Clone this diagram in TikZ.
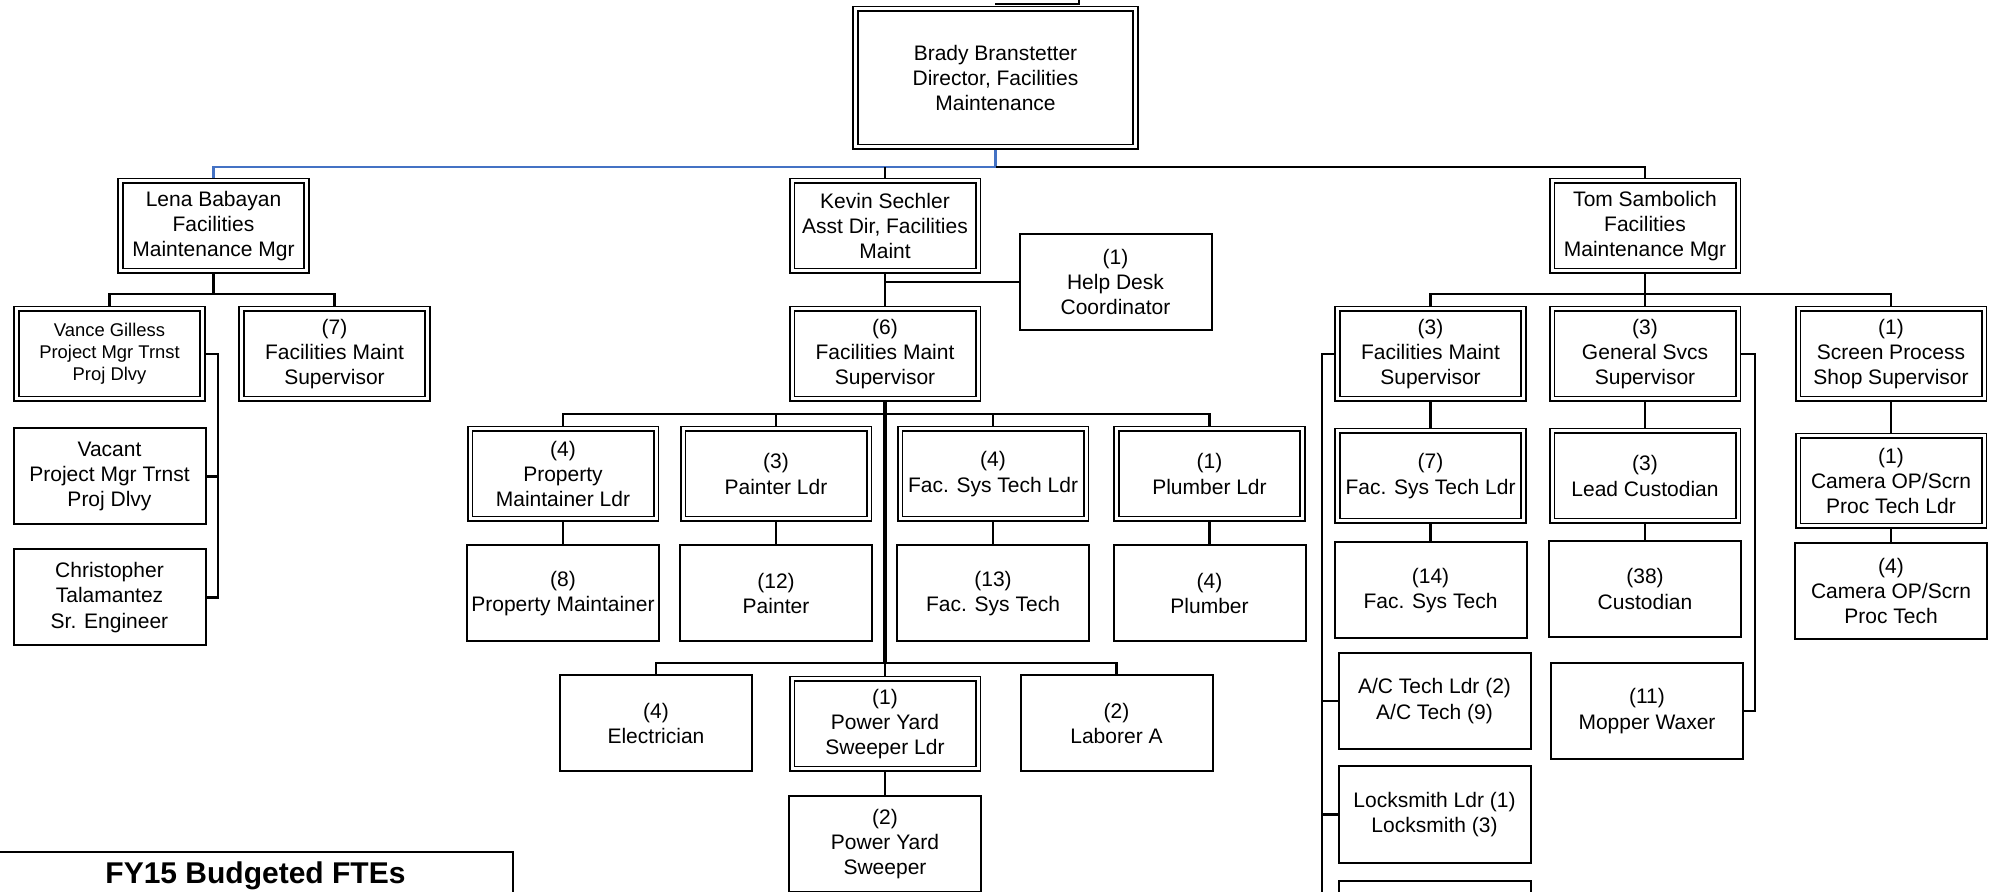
\documentclass[tikz,border=0pt]{standalone}
\usepackage{fontspec}
\setmainfont{Liberation Sans}
\usetikzlibrary{calc}
\definecolor{linkblue}{RGB}{68,114,196}
\tikzset{
  jobbox/.style={draw,fill=white,line width=1pt,minimum width=96pt,minimum height=48pt,
    inner sep=1pt,align=center,font=\fontsize{10.5}{12.6}\selectfont},
  leadbox/.style={jobbox,double,double distance=1.5pt,line width=0.8pt,
    minimum width=93pt,minimum height=45pt,outer sep=1.55pt},
  link/.style={draw,line width=1.05pt},
  trunk/.style={draw,line width=1.7pt},
}
\begin{document}
\begin{tikzpicture}[x=0.5pt,y=-0.5pt]
  \useasboundingbox (0,0) rectangle (1993,892);
  \clip (0,0) rectangle (1993,892);
  \fill[white] (0,0) rectangle (1993,892);
  \draw[link] (995,4) -- (1079,4) -- (1079,0);
  % director and managers
  \node[leadbox,minimum width=140pt,minimum height=69pt] (dir) at (995.5,78) {Brady Branstetter\\Director, Facilities\\Maintenance};
  \node[leadbox] (lena) at (213.5,226) {Lena Babayan\\Facilities\\Maintenance Mgr};
  \node[leadbox] (kevin) at (885,226) {Kevin Sechler\\Asst Dir, Facilities\\Maint};
  \node[leadbox] (tom) at (1645,226) {Tom Sambolich\\Facilities\\Maintenance Mgr};
  % Lena
  \node[leadbox,font=\fontsize{9.2}{11}\selectfont] (vance) at (109.5,354) {Vance Gilless\\Project Mgr Trnst\\Proj Dlvy};
  \node[leadbox] (fms7) at (334.5,354) {(7)\\Facilities Maint\\Supervisor};
  \node[jobbox] (vacant) at (109.5,476.5) {Vacant\\Project Mgr Trnst\\Proj Dlvy};
  \node[jobbox] (chris) at (109.5,597.5) {Christopher\\Talamantez\\Sr. Engineer};
  % Kevin
  \node[leadbox] (fms6) at (885,354) {(6)\\Facilities Maint\\Supervisor};
  \node[jobbox] (help) at (1115.5,282) {(1)\\Help Desk\\Coordinator};
  \foreach \n/\x/\t in {pml/563/{(4)\\Property\\Maintainer Ldr},pl/776/{(3)\\Painter Ldr},
      fstl/993/{(4)\\Fac. Sys Tech Ldr},plml/1209.5/{(1)\\Plumber Ldr}}
    \node[leadbox] (\n) at (\x,474) {\t};
  \foreach \n/\x/\t in {pm/563/{(8)\\Property Maintainer},painter/776/{(12)\\Painter},
      fst/993/{(13)\\Fac. Sys Tech},plumber/1209.5/{(4)\\Plumber}}
    \node[jobbox] (\n) at (\x,593.5) {\t};
  \node[jobbox] (elec) at (656,723.5) {(4)\\Electrician};
  \node[leadbox] (pysl) at (885,724) {(1)\\Power Yard\\Sweeper Ldr};
  \node[jobbox] (laborer) at (1116.5,723.5) {(2)\\Laborer A};
  \node[jobbox] (pys) at (885,844) {(2)\\Power Yard\\Sweeper};
  % Tom
  \node[leadbox] (fms3) at (1430.5,354) {(3)\\Facilities Maint\\Supervisor};
  \node[leadbox] (gss) at (1645,354) {(3)\\General Svcs\\Supervisor};
  \node[leadbox] (spss) at (1891,354) {(1)\\Screen Process\\Shop Supervisor};
  \node[leadbox] (fstl7) at (1430.5,476) {(7)\\Fac. Sys Tech Ldr};
  \node[leadbox] (lead) at (1645,476) {(3)\\Lead Custodian};
  \node[leadbox] (camldr) at (1891,481) {(1)\\Camera OP/Scrn\\Proc Tech Ldr};
  \node[jobbox] (fst14) at (1430.5,590.5) {(14)\\Fac. Sys Tech};
  \node[jobbox] (cust38) at (1645,589) {(38)\\Custodian};
  \node[jobbox] (cam4) at (1891,591) {(4)\\Camera OP/Scrn\\Proc Tech};
  \node[jobbox] (ac) at (1434.5,701) {A/C Tech Ldr (2)\\A/C Tech (9)};
  \node[jobbox] (lock) at (1434.5,814.5) {Locksmith Ldr (1)\\Locksmith (3)};
  \node[jobbox] (extra) at (1434.5,929) {};
  \node[jobbox] (mopper) at (1647,711) {(11)\\Mopper Waxer};
  \node[draw,line width=1.1pt,minimum width=257.5pt,minimum height=24pt,
    font=\bfseries\fontsize{15}{17}\selectfont] (fte) at (255.5,876) {FY15 Budgeted FTEs};
  % lines
  \coordinate (hub) at (995.5,167);
  \draw[link,draw=linkblue] (dir.south) -- (hub) -| (lena.north);
  \draw[link] (hub) -| (tom.north);
  \draw[link] (kevin.north) -- (kevin.north |- hub);
  \coordinate (lbar) at (213.5,294);
  \draw[link] (lena.south) -- (lbar);
  \draw[link] (vance.north) |- (lbar) -| (fms7.north);
  \foreach \n in {vacant,chris} \draw[link] (vance.east) -- ++(12,0) |- (\n.east);
  \draw[link] (kevin.south) -- (fms6.north);
  \draw[link] (help.west) -- (help.west -| kevin.south);
  \coordinate (kbar) at (885,414);
  \draw[link] (pml.north) |- (kbar) -| (plml.north);
  \foreach \n in {pl,fstl} \draw[link] (\n.north) -- (\n.north |- kbar);
  \foreach \a/\b in {pml/pm,pl/painter,fstl/fst,plml/plumber} \draw[link] (\a.south) -- (\b.north);
  \coordinate (kbar2) at (885,663);
  \draw[trunk] (fms6.south) -- (kbar2);
  \draw[link] (elec.north) |- (kbar2) -| (laborer.north);
  \draw[link] (kbar2) -- (pysl.north);
  \draw[link] (pysl.south) -- (pys.north);
  \coordinate (tbar) at (1645,294);
  \draw[link] (tom.south) -- (gss.north);
  \draw[link] (fms3.north) |- (tbar) -| (spss.north);
  \foreach \a/\b in {fms3/fstl7,fstl7/fst14,gss/lead,lead/cust38,spss/camldr,camldr/cam4}
    \draw[link] (\a.south) -- (\b.north);
  \foreach \n in {ac,lock,extra} \draw[link] (fms3.west) -- ++(-12,0) |- (\n.west);
  \draw[link] (gss.east) -- ++(14,0) |- (mopper.east);
\end{tikzpicture}
\end{document}
